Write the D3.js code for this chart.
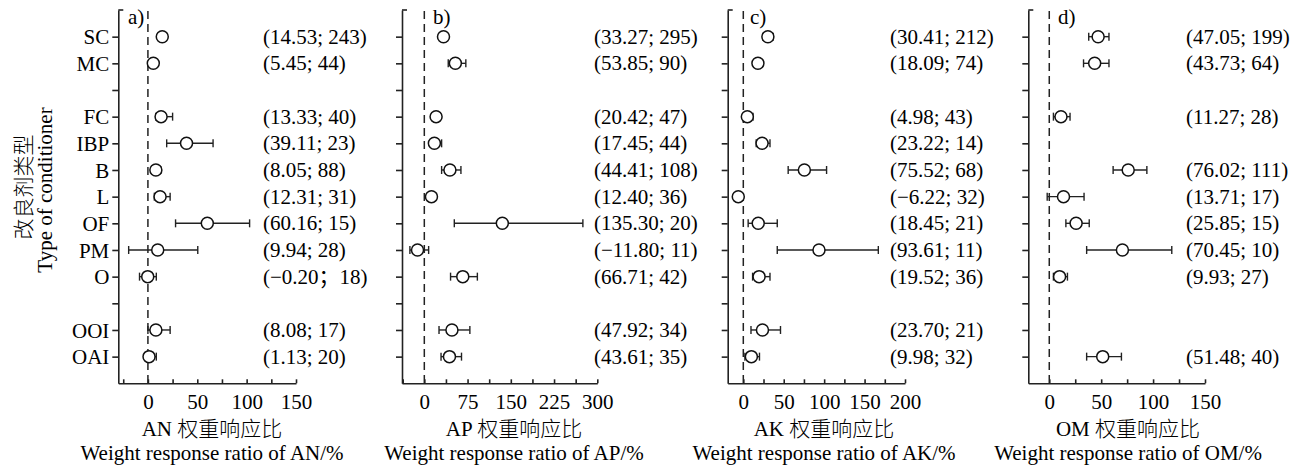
<!DOCTYPE html>
<html>
<head>
<meta charset="utf-8">
<script src="https://cdn.jsdelivr.net/npm/d3@7"></script>
<style>
  body { margin: 0; background: #fff; }
  text { font-family: "Liberation Serif", "Times New Roman", "Noto Sans CJK SC", serif; fill: #000; }
  .cn { font-weight: 300; }
</style>
</head>
<body>
<svg id="chart" width="1305" height="471"></svg>
<script>
// rows top to bottom, "" = empty row
const categories = ["SC", "MC", "", "FC", "IBP", "B", "L", "OF", "PM", "O", "", "OOI", "OAI"];

// a) AN
const anMean = [14.53, 5.45, null, 13.33, 39.11, 8.05, 12.31, 60.16, 9.94, -0.20, null, 8.08, 1.13];
const anLow  = [10, 2, null, 8, 19, 4, 6.5, 28, -19.5, -8.5, null, 0, -2.5];
const anHigh = [19, 9, null, 25, 66, 13, 22.5, 103, 50.5, 8.5, null, 22.5, 8.5];
const anNote = ["(14.53; 243)", "(5.45; 44)", "", "(13.33; 40)", "(39.11; 23)", "(8.05; 88)", "(12.31; 31)",
  "(60.16; 15)", "(9.94; 28)", "(−0.20；18)", "", "(8.08; 17)", "(1.13; 20)"];

// b) AP
const apMean = [33.27, 53.85, null, 20.42, 17.45, 44.41, 12.40, 135.30, -11.80, 66.71, null, 47.92, 43.61];
const apLow  = [27, 41.5, null, 14, 11, 30, 5, 52, -25, 45.5, null, 25.5, 29];
const apHigh = [40, 72, null, 27, 30, 63.5, 21, 275, 7.5, 92, null, 79, 64.5];
const apNote = ["(33.27; 295)", "(53.85; 90)", "", "(20.42; 47)", "(17.45; 44)", "(44.41; 108)", "(12.40; 36)",
  "(135.30; 20)", "(−11.80; 11)", "(66.71; 42)", "", "(47.92; 34)", "(43.61; 35)"];

// c) AK
const akMean = [30.41, 18.09, null, 4.98, 23.22, 75.52, -6.22, 18.45, 93.61, 19.52, null, 23.70, 9.98];
const akLow  = [24, 13, null, 1, 16, 55.5, -10, 6, 42, 11.5, null, 9.5, 2];
const akHigh = [37, 24, null, 12, 33, 103, -1, 42, 167, 33, null, 46, 20];
const akNote = ["(30.41; 212)", "(18.09; 74)", "", "(4.98; 43)", "(23.22; 14)", "(75.52; 68)", "(−6.22; 32)",
  "(18.45; 21)", "(93.61; 11)", "(19.52; 36)", "", "(23.70; 21)", "(9.98; 32)"];

// d) OM
const omMean = [47.05, 43.73, null, 11.27, null, 76.02, 13.71, 25.85, 70.45, 9.93, null, null, 51.48];
const omLow  = [38, 33, null, 4, null, 61.5, -2, 16, 36, 4, null, null, 36];
const omHigh = [57.5, 57.5, null, 20, null, 94, 33.5, 38.5, 118, 17.5, null, null, 69.5];
const omNote = ["(47.05; 199)", "(43.73; 64)", "", "(11.27; 28)", "", "(76.02; 111)", "(13.71; 17)",
  "(25.85; 15)", "(70.45; 10)", "(9.93; 27)", "", "", "(51.48; 40)"];

const tickLabelsA = [0, 50, 100, 150];
const tickLabelsB = [0, 75, 150, 225, 300];
const tickLabelsC = [0, 50, 100, 150, 200];
const tickLabelsD = [0, 50, 100, 150];

const panels = [
  {tag: "a)", name: "AN", mean: anMean, low: anLow, high: anHigh, note: anNote, labels: tickLabelsA,
   domain: [-30, 150], minor: d3.range(-25, 151, 25), left: 118.3, right: 296, noteX: 263, tagX: 128, titleX: 212},
  {tag: "b)", name: "AP", mean: apMean, low: apLow, high: apHigh, note: apNote, labels: tickLabelsB,
   domain: [-38.7, 300], minor: d3.range(-37.5, 301, 37.5), left: 402, right: 597.3, noteX: 594, tagX: 433, titleX: 514},
  {tag: "c)", name: "AK", mean: akMean, low: akLow, high: akHigh, note: akNote, labels: tickLabelsC,
   domain: [-19.3, 200], minor: d3.range(0, 201, 25), left: 727.7, right: 905, noteX: 890, tagX: 750, titleX: 824},
  {tag: "d)", name: "OM", mean: omMean, low: omLow, high: omHigh, note: omNote, labels: tickLabelsD,
   domain: [-20.2, 150], minor: d3.range(0, 151, 25), left: 1028.3, right: 1205, noteX: 1186, tagX: 1058, titleX: 1128}
];

const svg = d3.select("#chart");
const fs = 21;
const y = d3.scaleLinear().domain([0, categories.length + 1]).range([10, 383.3]);
const rows = categories.map((c, i) => i);

panels.forEach((p, pi) => {
  const x = d3.scaleLinear().domain(p.domain).range([p.left, p.right]);
  const g = svg.append("g");

  // y axis, ticks outward, names only on first panel
  const yAxis = d3.axisLeft(y)
    .tickValues(d3.range(1, categories.length + 1))
    .tickSize(6).tickSizeOuter(0).tickPadding(3)
    .tickFormat(i => pi === 0 ? categories[i - 1] : "");
  const ya = g.append("g").attr("transform", `translate(${p.left},0)`).call(yAxis);
  ya.selectAll("text").attr("font-family", null).attr("font-size", fs).attr("dy", "0.34em");
  ya.selectAll("path, line").attr("stroke", "#222").attr("stroke-width", 1.6);
  g.append("line")
    .attr("x1", p.left).attr("x2", p.left + 5)
    .attr("y1", y(0)).attr("y2", y(0))
    .attr("stroke", "#222").attr("stroke-width", 1.6);

  // x axis, ticks inward
  const xAxis = d3.axisBottom(x)
    .tickValues(p.minor)
    .tickSize(-4).tickSizeOuter(0).tickPadding(11)
    .tickFormat(d => p.labels.includes(d) ? d : "");
  const xa = g.append("g").attr("transform", `translate(0,${y(categories.length + 1)})`).call(xAxis);
  xa.selectAll("text").attr("font-family", null).attr("font-size", fs);
  xa.selectAll("path, line").attr("stroke", "#222").attr("stroke-width", 1.6);

  // zero reference
  g.append("line")
    .attr("x1", x(0)).attr("x2", x(0))
    .attr("y1", y(0) + 1).attr("y2", y(categories.length + 1))
    .attr("stroke", "#222").attr("stroke-width", 1.5)
    .attr("stroke-dasharray", "8,5");

  const pts = rows.filter(i => p.mean[i] !== null);

  // error bars
  const eb = g.selectAll(".eb").data(pts).join("g").attr("class", "eb");
  eb.append("line")
    .attr("x1", i => x(p.low[i])).attr("x2", i => x(p.high[i]))
    .attr("y1", i => y(i + 1)).attr("y2", i => y(i + 1))
    .attr("stroke", "#222").attr("stroke-width", 1.4);
  ["low", "high"].forEach(k => {
    eb.append("line")
      .attr("x1", i => x(p[k][i])).attr("x2", i => x(p[k][i]))
      .attr("y1", i => y(i + 1) - 4).attr("y2", i => y(i + 1) + 4)
      .attr("stroke", "#222").attr("stroke-width", 1.4);
  });
  eb.append("circle")
    .attr("cx", i => x(p.mean[i])).attr("cy", i => y(i + 1))
    .attr("r", 6)
    .attr("fill", "#fff").attr("stroke", "#111").attr("stroke-width", 1.5);

  // (mean; n) notes
  g.selectAll(".note").data(rows.filter(i => p.note[i] !== "")).join("text")
    .attr("x", p.noteX).attr("y", i => y(i + 1))
    .attr("dy", "0.34em")
    .attr("font-size", fs)
    .text(i => p.note[i]);

  // panel tag
  g.append("text").attr("x", p.tagX).attr("y", 24).attr("font-size", fs).text(p.tag);

  // axis titles
  g.append("text").attr("class", "cn").attr("x", p.titleX).attr("y", 436)
    .attr("text-anchor", "middle").attr("font-size", fs)
    .text(`${p.name} 权重响应比`);
  g.append("text").attr("x", p.titleX).attr("y", 460)
    .attr("text-anchor", "middle").attr("font-size", fs)
    .text(`Weight response ratio of ${p.name}/%`);
});

// y title
svg.append("text").attr("class", "cn")
  .attr("transform", "translate(31,187) rotate(-90)")
  .attr("text-anchor", "middle").attr("font-size", fs)
  .text("改良剂类型");
svg.append("text")
  .attr("transform", "translate(51.5,190) rotate(-90)")
  .attr("text-anchor", "middle").attr("font-size", fs)
  .text("Type of conditioner");
</script>
</body>
</html>
